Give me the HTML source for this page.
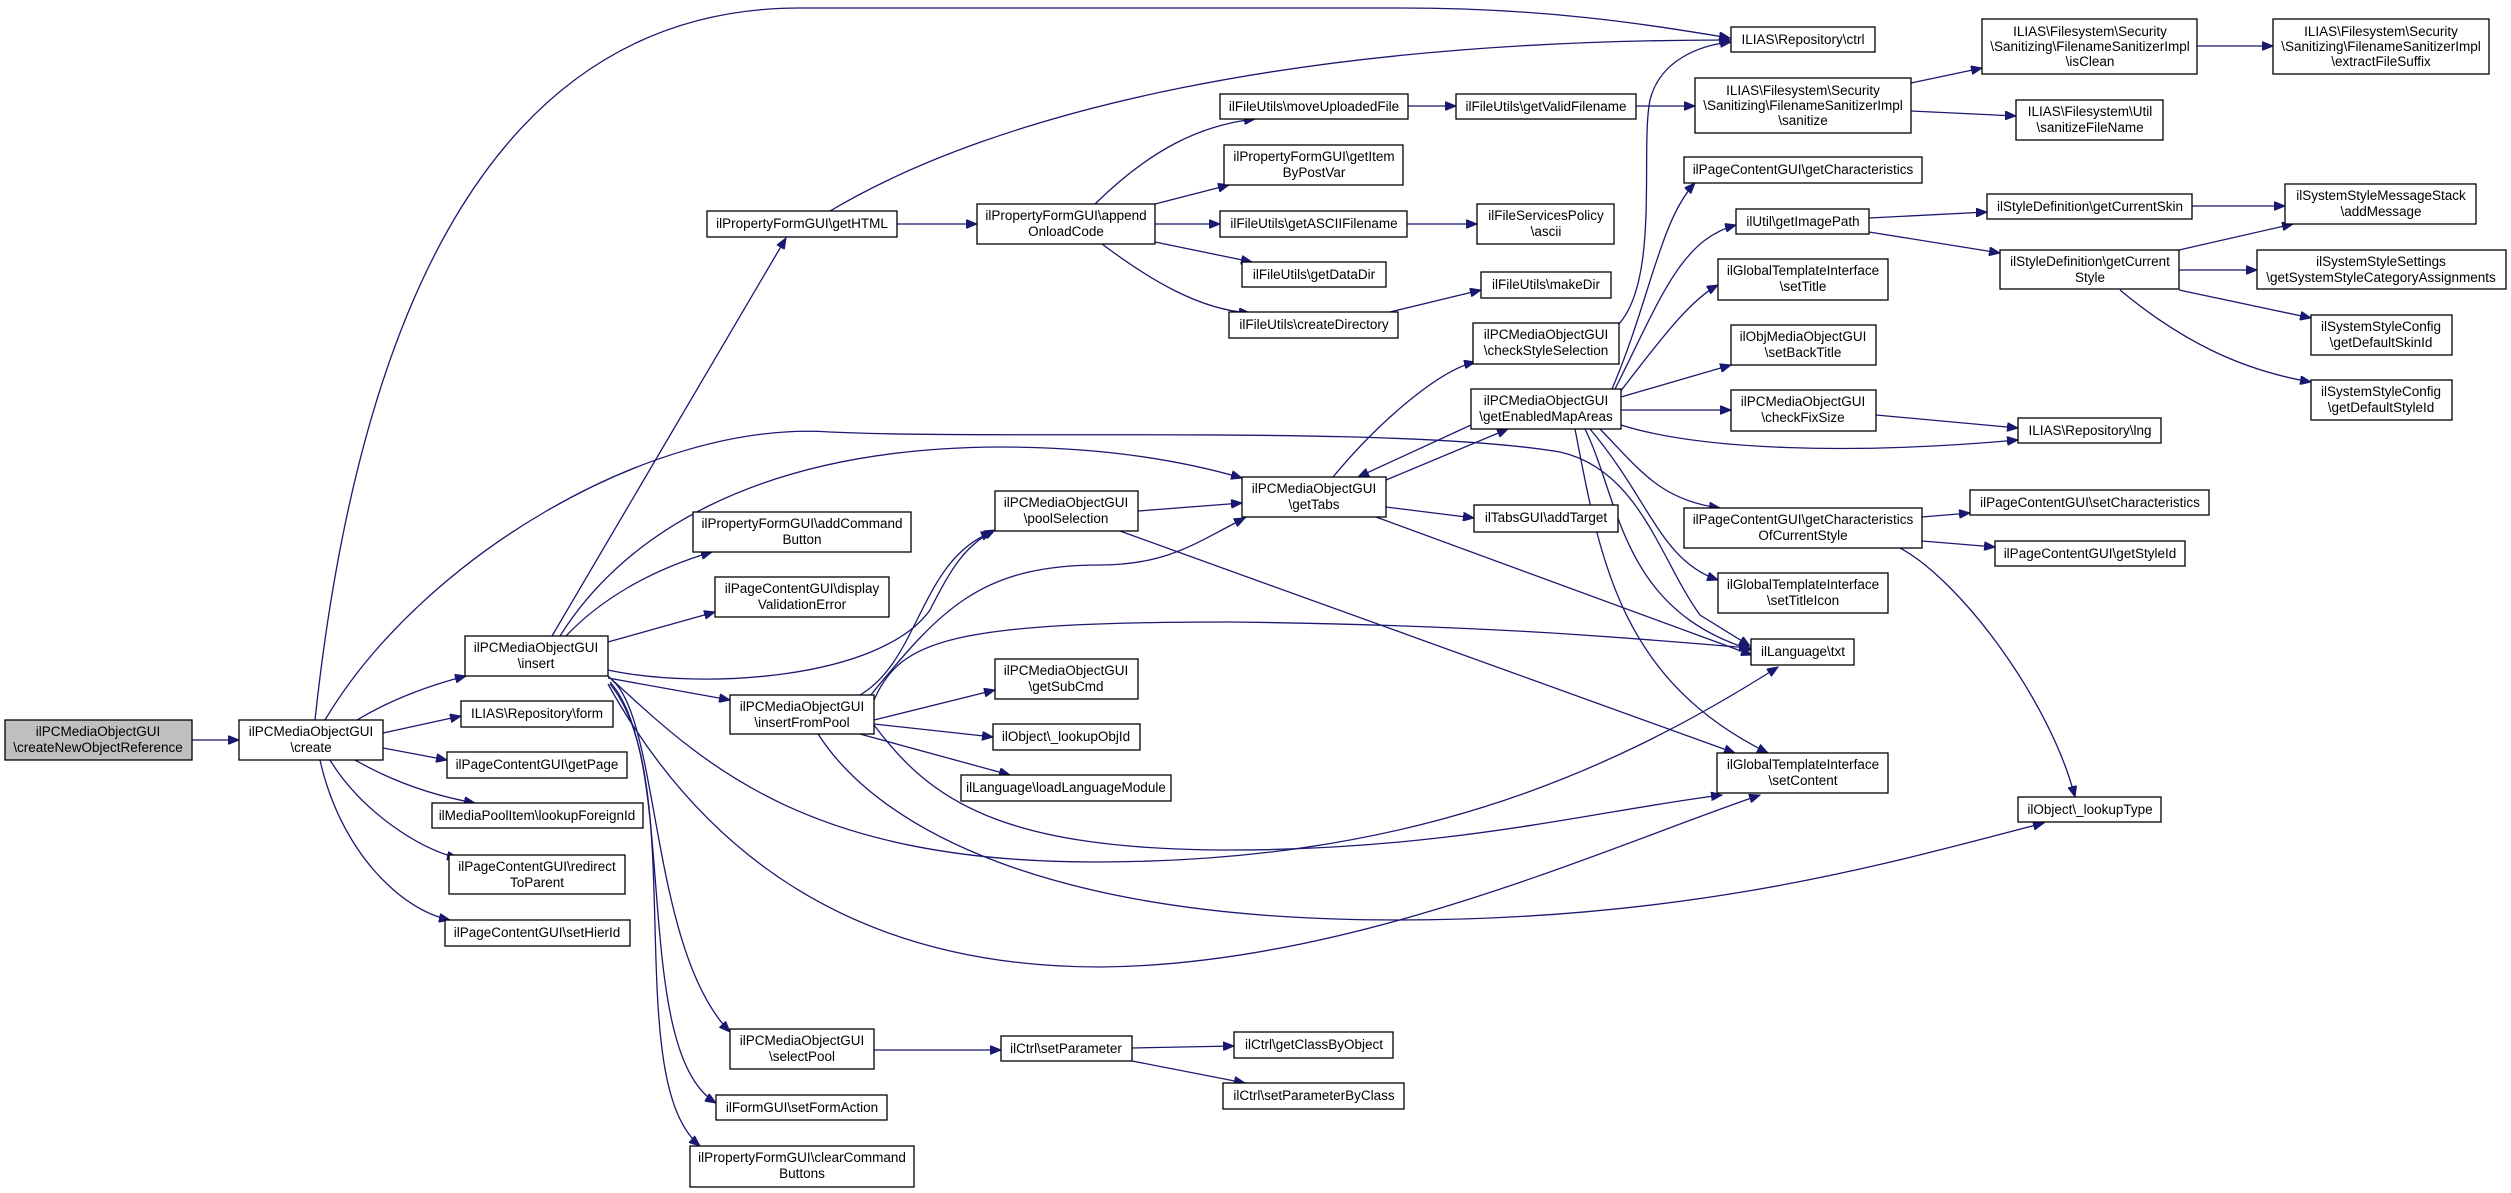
<!DOCTYPE html>
<html><head><meta charset="utf-8"><style>
html,body{margin:0;padding:0;background:#fff;}
svg{display:block;}
text{font-family:"Liberation Sans",sans-serif;font-size:13.5px;fill:#000;text-anchor:middle;}
rect{fill:#fff;stroke:#000;stroke-width:1.3;}
path{fill:none;stroke:#191970;stroke-width:1.3;}
</style></head><body>
<svg width="2511" height="1193" viewBox="0 0 2511 1193" xmlns="http://www.w3.org/2000/svg">
<defs><marker id="a" markerWidth="12" markerHeight="9" refX="11" refY="4.5" orient="auto" markerUnits="userSpaceOnUse"><path d="M0,0 L11,4.5 L0,9 z" style="fill:#191970;stroke:#191970;stroke-width:1"/></marker></defs>
<g marker-end="url(#a)">
<path d="M192 740 L239 740"/>
<path d="M315 720 C360 300 500 8 800 8 L1400 8 C1550 8 1650 25 1730 38"/>
<path d="M325 720 C420 560 650 420 830 432 C1000 440 1400 425 1560 452 C1640 470 1660 560 1700 615 L1750 646"/>
<path d="M357 720 C390 700 430 685 466 676"/>
<path d="M383 733 L461 716"/>
<path d="M383 748 L447 760"/>
<path d="M355 760 C390 780 430 795 475 803"/>
<path d="M330 760 C360 810 420 850 458 858"/>
<path d="M320 760 C340 850 400 910 450 920"/>
<path d="M552 636 L786 238"/>
<path d="M560 636 C620 540 750 448 1000 447 C1100 447 1180 460 1242 478"/>
<path d="M566 636 C600 600 650 570 712 552"/>
<path d="M608 642 L715 612"/>
<path d="M608 670 C700 690 880 680 930 610 C950 570 965 545 995 530"/>
<path d="M608 678 L730 700"/>
<path d="M612 680 C660 720 650 950 730 1032"/>
<path d="M610 682 C680 760 630 1050 716 1103"/>
<path d="M610 684 C690 780 620 1080 700 1146"/>
<path d="M608 676 C700 760 800 862 1095 862 C1400 862 1600 780 1778 667"/>
<path d="M608 684 C700 850 850 967 1100 967 C1350 965 1600 850 1760 795"/>
<path d="M818 734 C880 830 1050 920 1397 920 C1700 920 1900 860 2044 823"/>
<path d="M874 725 C930 800 1000 850 1231 850 C1450 850 1600 810 1722 795"/>
<path d="M874 700 C900 640 950 622 1230 622 C1500 625 1650 640 1750 648"/>
<path d="M874 720 L995 690"/>
<path d="M874 724 L993 737"/>
<path d="M860 734 L1010 775"/>
<path d="M860 695 C920 660 920 560 992 532"/>
<path d="M870 696 C940 610 980 565 1100 565 C1170 565 1200 540 1245 518"/>
<path d="M1138 511 L1242 503"/>
<path d="M1120 531 L1735 753"/>
<path d="M1333 477 C1380 420 1440 370 1475 362"/>
<path d="M1386 480 L1508 429"/>
<path d="M1471 425 L1358 477"/>
<path d="M1386 507 L1474 518"/>
<path d="M1376 517 L1752 655"/>
<path d="M897 224 L977 224"/>
<path d="M830 211 C1000 110 1300 40 1730 40"/>
<path d="M1095 204 C1150 150 1200 125 1255 119"/>
<path d="M1155 204 L1229 185"/>
<path d="M1155 224 L1220 224"/>
<path d="M1155 242 L1252 262"/>
<path d="M1102 244 C1150 280 1200 310 1250 313"/>
<path d="M1408 106 L1456 106"/>
<path d="M1636 106 L1695 106"/>
<path d="M1407 224 L1477 224"/>
<path d="M1390 312 L1481 290"/>
<path d="M1618 325 C1660 280 1640 150 1650 100 C1660 60 1700 45 1731 42"/>
<path d="M1612 389 C1650 300 1660 220 1695 183"/>
<path d="M1615 389 C1660 300 1680 240 1736 225"/>
<path d="M1620 392 C1660 340 1690 300 1718 285"/>
<path d="M1621 397 L1731 365"/>
<path d="M1621 410 L1731 410"/>
<path d="M1621 425 C1700 450 1850 455 2018 440"/>
<path d="M1600 429 C1640 470 1660 500 1720 508"/>
<path d="M1590 429 C1650 500 1660 560 1718 580"/>
<path d="M1585 429 C1620 500 1620 610 1752 650"/>
<path d="M1575 429 C1600 560 1620 680 1768 753"/>
<path d="M1876 415 L2018 428"/>
<path d="M1911 83 L1982 68"/>
<path d="M1911 111 L2016 116"/>
<path d="M2197 46 L2273 46"/>
<path d="M1869 218 L1987 212"/>
<path d="M1869 232 L2000 253"/>
<path d="M2192 206 L2285 206"/>
<path d="M2179 250 L2293 224"/>
<path d="M2179 270 L2257 270"/>
<path d="M2179 290 L2311 318"/>
<path d="M2120 290 C2180 340 2240 370 2311 382"/>
<path d="M1922 517 L1970 513"/>
<path d="M1922 541 L1995 547"/>
<path d="M1900 548 C1960 580 2050 700 2075 797"/>
<path d="M874 1050 L1001 1050"/>
<path d="M1132 1048 L1234 1046"/>
<path d="M1132 1061 L1245 1083"/>
</g>
<g>
<rect x="5" y="720" width="187" height="40" style="fill:#bfbfbf"/><text x="98" y="736">ilPCMediaObjectGUI</text><text x="98" y="752">\createNewObjectReference</text>
<rect x="239" y="720" width="144" height="40"/><text x="311" y="736">ilPCMediaObjectGUI</text><text x="311" y="752">\create</text>
<rect x="465" y="636" width="143" height="40"/><text x="536" y="652">ilPCMediaObjectGUI</text><text x="536" y="668">\insert</text>
<rect x="461" y="701" width="152" height="26"/><text x="537" y="718">ILIAS\Repository\form</text>
<rect x="447" y="752" width="180" height="26"/><text x="537" y="769">ilPageContentGUI\getPage</text>
<rect x="432" y="803" width="211" height="25"/><text x="537" y="820">ilMediaPoolItem\lookupForeignId</text>
<rect x="449" y="855" width="176" height="39"/><text x="537" y="871">ilPageContentGUI\redirect</text><text x="537" y="887">ToParent</text>
<rect x="445" y="920" width="185" height="26"/><text x="537" y="937">ilPageContentGUI\setHierId</text>
<rect x="707" y="211" width="190" height="26"/><text x="802" y="228">ilPropertyFormGUI\getHTML</text>
<rect x="693" y="512" width="218" height="40"/><text x="802" y="528">ilPropertyFormGUI\addCommand</text><text x="802" y="544">Button</text>
<rect x="715" y="577" width="174" height="40"/><text x="802" y="593">ilPageContentGUI\display</text><text x="802" y="609">ValidationError</text>
<rect x="730" y="695" width="144" height="39"/><text x="802" y="711">ilPCMediaObjectGUI</text><text x="802" y="727">\insertFromPool</text>
<rect x="730" y="1029" width="144" height="40"/><text x="802" y="1045">ilPCMediaObjectGUI</text><text x="802" y="1061">\selectPool</text>
<rect x="716" y="1095" width="171" height="25"/><text x="802" y="1112">ilFormGUI\setFormAction</text>
<rect x="690" y="1146" width="224" height="41"/><text x="802" y="1162">ilPropertyFormGUI\clearCommand</text><text x="802" y="1178">Buttons</text>
<rect x="977" y="204" width="178" height="40"/><text x="1066" y="220">ilPropertyFormGUI\append</text><text x="1066" y="236">OnloadCode</text>
<rect x="995" y="491" width="143" height="40"/><text x="1066" y="507">ilPCMediaObjectGUI</text><text x="1066" y="523">\poolSelection</text>
<rect x="995" y="659" width="143" height="40"/><text x="1066" y="675">ilPCMediaObjectGUI</text><text x="1066" y="691">\getSubCmd</text>
<rect x="993" y="724" width="147" height="26"/><text x="1066" y="741">ilObject\_lookupObjId</text>
<rect x="961" y="775" width="210" height="26"/><text x="1066" y="792">ilLanguage\loadLanguageModule</text>
<rect x="1001" y="1036" width="131" height="25"/><text x="1066" y="1053">ilCtrl\setParameter</text>
<rect x="1220" y="94" width="188" height="25"/><text x="1314" y="111">ilFileUtils\moveUploadedFile</text>
<rect x="1224" y="145" width="179" height="40"/><text x="1314" y="161">ilPropertyFormGUI\getItem</text><text x="1314" y="177">ByPostVar</text>
<rect x="1220" y="211" width="187" height="26"/><text x="1314" y="228">ilFileUtils\getASCIIFilename</text>
<rect x="1242" y="262" width="144" height="25"/><text x="1314" y="279">ilFileUtils\getDataDir</text>
<rect x="1229" y="312" width="169" height="26"/><text x="1314" y="329">ilFileUtils\createDirectory</text>
<rect x="1242" y="477" width="144" height="40"/><text x="1314" y="493">ilPCMediaObjectGUI</text><text x="1314" y="509">\getTabs</text>
<rect x="1234" y="1032" width="159" height="26"/><text x="1314" y="1049">ilCtrl\getClassByObject</text>
<rect x="1223" y="1083" width="181" height="26"/><text x="1314" y="1100">ilCtrl\setParameterByClass</text>
<rect x="1456" y="94" width="180" height="25"/><text x="1546" y="111">ilFileUtils\getValidFilename</text>
<rect x="1477" y="204" width="137" height="40"/><text x="1546" y="220">ilFileServicesPolicy</text><text x="1546" y="236">\ascii</text>
<rect x="1481" y="272" width="130" height="26"/><text x="1546" y="289">ilFileUtils\makeDir</text>
<rect x="1473" y="323" width="146" height="41"/><text x="1546" y="339">ilPCMediaObjectGUI</text><text x="1546" y="355">\checkStyleSelection</text>
<rect x="1471" y="389" width="150" height="40"/><text x="1546" y="405">ilPCMediaObjectGUI</text><text x="1546" y="421">\getEnabledMapAreas</text>
<rect x="1474" y="505" width="144" height="27"/><text x="1546" y="522">ilTabsGUI\addTarget</text>
<rect x="1731" y="27" width="144" height="25"/><text x="1803" y="44">ILIAS\Repository\ctrl</text>
<rect x="1695" y="78" width="216" height="55"/><text x="1803" y="95">ILIAS\Filesystem\Security</text><text x="1803" y="110">\Sanitizing\FilenameSanitizerImpl</text><text x="1803" y="125">\sanitize</text>
<rect x="1684" y="157" width="238" height="26"/><text x="1803" y="174">ilPageContentGUI\getCharacteristics</text>
<rect x="1736" y="209" width="133" height="25"/><text x="1803" y="226">ilUtil\getImagePath</text>
<rect x="1718" y="259" width="170" height="41"/><text x="1803" y="275">ilGlobalTemplateInterface</text><text x="1803" y="291">\setTitle</text>
<rect x="1731" y="325" width="145" height="40"/><text x="1803" y="341">ilObjMediaObjectGUI</text><text x="1803" y="357">\setBackTitle</text>
<rect x="1731" y="390" width="145" height="41"/><text x="1803" y="406">ilPCMediaObjectGUI</text><text x="1803" y="422">\checkFixSize</text>
<rect x="1684" y="508" width="238" height="40"/><text x="1803" y="524">ilPageContentGUI\getCharacteristics</text><text x="1803" y="540">OfCurrentStyle</text>
<rect x="1718" y="573" width="170" height="40"/><text x="1803" y="589">ilGlobalTemplateInterface</text><text x="1803" y="605">\setTitleIcon</text>
<rect x="1751" y="639" width="103" height="26"/><text x="1803" y="656">ilLanguage\txt</text>
<rect x="1717" y="753" width="171" height="40"/><text x="1803" y="769">ilGlobalTemplateInterface</text><text x="1803" y="785">\setContent</text>
<rect x="1982" y="19" width="215" height="55"/><text x="2090" y="36">ILIAS\Filesystem\Security</text><text x="2090" y="51">\Sanitizing\FilenameSanitizerImpl</text><text x="2090" y="66">\isClean</text>
<rect x="2016" y="100" width="147" height="40"/><text x="2090" y="116">ILIAS\Filesystem\Util</text><text x="2090" y="132">\sanitizeFileName</text>
<rect x="1987" y="194" width="205" height="25"/><text x="2090" y="211">ilStyleDefinition\getCurrentSkin</text>
<rect x="2000" y="250" width="179" height="39"/><text x="2090" y="266">ilStyleDefinition\getCurrent</text><text x="2090" y="282">Style</text>
<rect x="2018" y="418" width="143" height="25"/><text x="2090" y="435">ILIAS\Repository\lng</text>
<rect x="1970" y="490" width="239" height="25"/><text x="2090" y="507">ilPageContentGUI\setCharacteristics</text>
<rect x="1995" y="541" width="190" height="25"/><text x="2090" y="558">ilPageContentGUI\getStyleId</text>
<rect x="2018" y="797" width="143" height="25"/><text x="2090" y="814">ilObject\_lookupType</text>
<rect x="2273" y="19" width="216" height="55"/><text x="2381" y="36">ILIAS\Filesystem\Security</text><text x="2381" y="51">\Sanitizing\FilenameSanitizerImpl</text><text x="2381" y="66">\extractFileSuffix</text>
<rect x="2285" y="184" width="191" height="40"/><text x="2381" y="200">ilSystemStyleMessageStack</text><text x="2381" y="216">\addMessage</text>
<rect x="2257" y="250" width="249" height="39"/><text x="2381" y="266">ilSystemStyleSettings</text><text x="2381" y="282">\getSystemStyleCategoryAssignments</text>
<rect x="2311" y="315" width="141" height="40"/><text x="2381" y="331">ilSystemStyleConfig</text><text x="2381" y="347">\getDefaultSkinId</text>
<rect x="2311" y="380" width="141" height="40"/><text x="2381" y="396">ilSystemStyleConfig</text><text x="2381" y="412">\getDefaultStyleId</text>
</g>
</svg>
</body></html>
